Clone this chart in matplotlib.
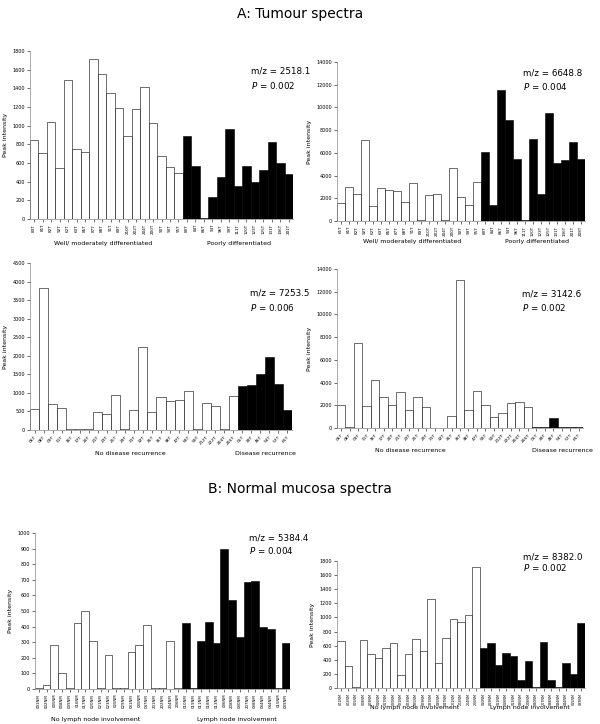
import matplotlib
matplotlib.use("Agg")
import matplotlib.pyplot as plt

# -------------------------
# Data
# -------------------------
# Panel A1: m/z 2518.1, differentiation
a1_white = [845, 705, 1040, 545, 1485, 745, 715, 1710, 1555, 1355, 1185, 885,
            1175, 1410, 1030, 680, 555, 490]
a1_black = [885, 565, 10, 235, 450, 965, 350, 570, 395, 530, 820, 600, 485]
a1_labels = ['83T', '81T', '82T', '92T', '62T', '63T', '85T', '87T', '88T', '91T',
             '89T', '210T', '202T', '204T', '200T', '90T', '93T', '95T',
             '80T', '84T', '86T', '94T', '96T', '99T', '111T', '120T', '123T',
             '125T', '131T', '136T', '201T']

# Panel A2: m/z 6648.8, differentiation
a2_white = [1550, 2950, 2350, 7150, 1300, 2900, 2750, 2650, 1650, 3350, 50,
            2250, 2400, 50, 4700, 2100, 1400, 3400]
a2_black = [6100, 1400, 11500, 8900, 5500, 50, 7200, 2350, 9500, 5100, 5400,
            7000, 5450]
a2_labels = ['61T', '81T', '82T', '92T', '62T', '63T', '85T', '87T', '88T', '91T',
             '89T', '210T', '202T', '204T', '200T', '90T', '93T', '95T',
             '80T', '84T', '86T', '94T', '96T', '111T', '120T', '123T', '125T',
             '131T', '136T', '201T', '208T']

# Panel A3: m/z 7253.5, recurrence
a3_white = [560, 3820, 690, 580, 20, 20, 20, 480, 430, 950, 20, 530, 2240,
            490, 880, 770, 800, 1040, 20, 740, 640, 20, 910]
a3_black = [1190, 1220, 1510, 1960, 1230, 540]
a3_labels = ['06T', '08T', '09T', '11T', '16T', '17T', '20T', '21T', '23T',
             '25T', '29T', '31T', '32T', '35T', '36T', '38T', '47T', '58T',
             '59T', '212T', '222T', '204T', '206T', '05T', '39T', '46T',
             '54T', '57T', '65T']

# Panel A4: m/z 3142.6, recurrence
a4_white = [2050, 50, 7500, 1950, 4250, 2750, 2050, 3200, 1600, 2700, 1850, 30,
            30, 1100, 13000, 1550, 3250, 2050, 1000, 1350, 2200, 2300, 1850]
a4_black = [50, 50, 850, 50, 50, 50]
a4_labels = ['06T', '08T', '09T', '11T', '16T', '17T', '20T', '21T', '23T',
             '25T', '29T', '31T', '32T', '35T', '36T', '38T', '47T', '58T',
             '59T', '212T', '222T', '204T', '206T', '05T', '39T', '46T',
             '54T', '57T', '65T']

# Panel B1: m/z 5384.4, lymph node
b1_white = [5, 25, 285, 100, 5, 420, 500, 310, 5, 220, 5, 5, 240, 285, 410,
            5, 5, 310, 5]
b1_black = [425, 5, 310, 430, 295, 900, 570, 335, 685, 695, 400, 385, 5, 295]
b1_labels = ['001NM', '002NM', '005NM', '008NM', '009NM', '016NM', '017NM',
             '020NM', '021NM', '023NM', '025NM', '029NM', '031NM', '035NM',
             '047NM', '201NM', '202NM', '204NM', '206NM', '010NM', '019NM',
             '011NM', '018NM', '013NM', '036NM', '208NM', '030NM', '207NM',
             '038NM', '034NM', '044NM', '015NM', '039NM']

# Panel B2: m/z 8382.0, lymph node
b2_white = [670, 315, 15, 680, 480, 425, 565, 640, 190, 480, 700, 525, 1255,
            360, 715, 985, 935, 1035, 1715]
b2_black = [570, 640, 330, 500, 455, 115, 380, 10, 650, 110, 10, 350, 195, 925]
b2_labels = ['001NM', '002NM', '005NM', '008NM', '009NM', '016NM', '017NM',
             '020NM', '021NM', '023NM', '025NM', '029NM', '031NM', '035NM',
             '047NM', '201NM', '202NM', '204NM', '206NM', '010NM', '019NM',
             '011NM', '018NM', '013NM', '036NM', '208NM', '030NM', '207NM',
             '038NM', '034NM', '044NM', '015NM', '039NM']


def draw_panel(ax, white, black, labels, ymax, ystep, mz, pval, rot,
               txt_xy, xfs=3.3):
    n_w = len(white)
    values = white + black
    xs = list(range(len(values)))
    colors = ['white'] * n_w + ['black'] * len(black)
    ax.bar(xs, values, width=1.0, color=colors, edgecolor='black',
           linewidth=0.4)
    ax.set_xlim(-0.5, len(values) - 0.5)
    ax.set_ylim(0, ymax)
    ax.set_yticks(range(0, ymax + 1, ystep))
    ax.tick_params(axis='y', labelsize=3.5, length=2, width=0.4, pad=1.5)
    ax.set_xticks(xs)
    if rot == 45:
        ax.set_xticklabels(labels, rotation=45, ha='right',
                           rotation_mode='anchor', fontsize=xfs)
    else:
        ax.set_xticklabels(labels, rotation=90, fontsize=xfs)
    ax.tick_params(axis='x', length=2, width=0.4, pad=1.5)
    ax.set_ylabel('Peak intensity', fontsize=4.5, labelpad=3)
    for s in ['top', 'right']:
        ax.spines[s].set_visible(False)
    for s in ['left', 'bottom']:
        ax.spines[s].set_color('#888888')
        ax.spines[s].set_linewidth(0.5)
    ax.text(txt_xy[0], txt_xy[1], 'm/z = ' + mz, transform=ax.transAxes,
            fontsize=6.3, ha='left', va='center')
    ax.text(txt_xy[0], txt_xy[1] - 0.085, '$P$ = ' + pval,
            transform=ax.transAxes, fontsize=6.3, ha='left', va='center')


fig = plt.figure(figsize=(6.0, 7.24), dpi=100)

fig.text(0.5, 1 - 14 / 724, 'A: Tumour spectra', ha='center', va='center',
         fontsize=10)
fig.text(0.5, 1 - 489 / 724, 'B: Normal mucosa spectra', ha='center',
         va='center', fontsize=10)

# positions in pixels: left, right, top, bottom
boxes = [(30, 293, 51, 219), (337, 585, 62, 221),
         (30, 292, 263, 430), (337, 583, 269, 428),
         (35, 290, 533, 689), (337, 585, 561, 688)]
axes = []
for l, r, t, b in boxes:
    axes.append(fig.add_axes([l / 600, 1 - b / 724, (r - l) / 600, (b - t) / 724]))

draw_panel(axes[0], a1_white, a1_black, a1_labels, 1800, 200, '2518.1', '0.002',
           90, (0.84, 0.88), 3.0)
draw_panel(axes[1], a2_white, a2_black, a2_labels, 14000, 2000, '6648.8', '0.004',
           90, (0.75, 0.93), 3.0)
draw_panel(axes[2], a3_white, a3_black, a3_labels, 4500, 500, '7253.5', '0.006',
           45, (0.84, 0.82), 3.2)
draw_panel(axes[3], a4_white, a4_black, a4_labels, 14000, 2000, '3142.6', '0.002',
           45, (0.75, 0.84), 3.2)
draw_panel(axes[4], b1_white, b1_black, b1_labels, 1000, 100, '5384.4', '0.004',
           90, (0.84, 0.97), 2.8)
draw_panel(axes[5], b2_white, b2_black, b2_labels, 1800, 200, '8382.0', '0.002',
           90, (0.75, 1.03), 2.4)

# group labels under the axes (pixel positions)
group_text = [
    ('Well/ moderately differentiated', 103, 244),
    ('Poorly differentiated', 239, 244),
    ('Well/ moderately differentiated', 412, 242),
    ('Poorly differentiated', 537, 242),
    ('No disease recurrence', 130, 453),
    ('Disease recurrence', 265, 453),
    ('No disease recurrence', 410, 450),
    ('Disease recurrence', 562, 450),
    ('No lymph node involvement', 96, 719),
    ('Lymph node involvement', 237, 719),
    ('No lymph node involvement', 415, 707),
    ('Lymph node involvement', 530, 707),
]
for txt, px, py in group_text:
    fig.text(px / 600, 1 - py / 724, txt, ha='center', va='center',
             fontsize=4.5)

fig.savefig('out.png', dpi=100)
